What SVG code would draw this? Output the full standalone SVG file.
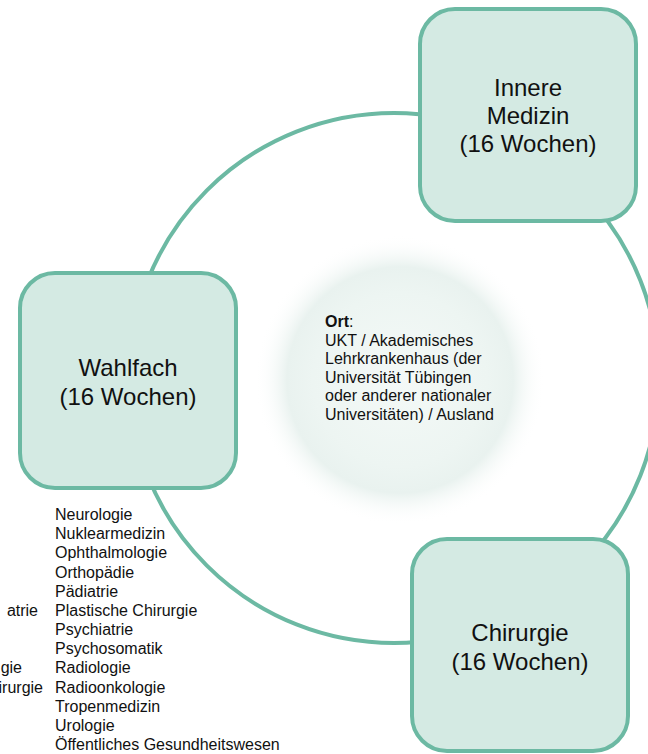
<svg xmlns="http://www.w3.org/2000/svg" width="648" height="754" viewBox="0 0 648 754">
  <defs>
    <radialGradient id="glow" cx="0.5" cy="0.5" r="0.5">
      <stop offset="0" stop-color="#f4f9f7"/>
      <stop offset="0.6" stop-color="#edf5f2"/>
      <stop offset="0.78" stop-color="#e9f2ef"/>
      <stop offset="1" stop-color="#ffffff" stop-opacity="0"/>
    </radialGradient>
    <style>
      .box { fill: #d4eae3; stroke: #6cb9a3; stroke-width: 4; }
      .ring { fill: none; stroke: #6cb9a3; stroke-width: 4; }
      .lbl { font-family: "Liberation Sans", Arial, sans-serif; font-size: 24px; fill: #111; text-anchor: middle; }
      .txt { font-family: "Liberation Sans", Arial, sans-serif; font-size: 16px; fill: #111; }
    </style>
  </defs>
  <rect width="648" height="754" fill="#ffffff"/>
  <circle cx="400" cy="380" r="145" fill="url(#glow)"/>
  <g id="connectors">
    <circle class="ring" cx="394" cy="378" r="265"/>
  </g>
  <g id="center">
    <text class="txt" x="325" y="327"><tspan font-weight="bold">Ort</tspan>:</text>
    <text class="txt" x="325" y="345.5">UKT / Akademisches</text>
    <text class="txt" x="325" y="364">Lehrkrankenhaus (der</text>
    <text class="txt" x="325" y="382.5">Universität Tübingen</text>
    <text class="txt" x="325" y="401">oder anderer nationaler</text>
    <text class="txt" x="325" y="419.5">Universitäten) / Ausland</text>
  </g>
  <g id="innere">
    <rect class="box" x="420" y="9" width="216" height="212" rx="35"/>
    <text class="lbl" x="528" y="96">Innere</text>
    <text class="lbl" x="528" y="124">Medizin</text>
    <text class="lbl" x="528" y="152">(16 Wochen)</text>
  </g>
  <g id="wahlfach">
    <rect class="box" x="20" y="273" width="216" height="215" rx="35"/>
    <text class="lbl" x="128" y="376">Wahlfach</text>
    <text class="lbl" x="128" y="405">(16 Wochen)</text>
  </g>
  <g id="chirurgie">
    <rect class="box" x="412" y="539" width="216" height="212" rx="35"/>
    <text class="lbl" x="520" y="641">Chirurgie</text>
    <text class="lbl" x="520" y="670">(16 Wochen)</text>
  </g>
  <g id="list">
    <text class="txt" x="55" y="520">Neurologie</text>
    <text class="txt" x="55" y="539.2">Nuklearmedizin</text>
    <text class="txt" x="55" y="558.3">Ophthalmologie</text>
    <text class="txt" x="55" y="577.5">Orthopädie</text>
    <text class="txt" x="55" y="596.7">Pädiatrie</text>
    <text class="txt" x="55" y="615.8">Plastische Chirurgie</text>
    <text class="txt" x="55" y="635">Psychiatrie</text>
    <text class="txt" x="55" y="654.2">Psychosomatik</text>
    <text class="txt" x="55" y="673.3">Radiologie</text>
    <text class="txt" x="55" y="692.5">Radioonkologie</text>
    <text class="txt" x="55" y="711.7">Tropenmedizin</text>
    <text class="txt" x="55" y="730.8">Urologie</text>
    <text class="txt" x="55" y="750">Öffentliches Gesundheitswesen</text>
    <text class="txt" x="38" y="615.8" text-anchor="end">atrie</text>
    <text class="txt" x="22" y="673.3" text-anchor="end">gie</text>
    <text class="txt" x="43" y="692.5" text-anchor="end">irurgie</text>
  </g>
</svg>
